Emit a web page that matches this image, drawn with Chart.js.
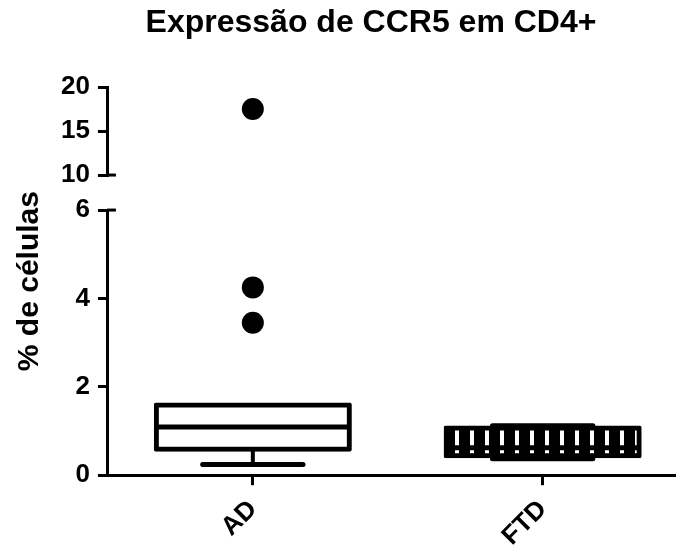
<!DOCTYPE html>
<html lang="pt">
<head>
<meta charset="utf-8">
<title>Expressão de CCR5 em CD4+</title>
<script src="https://cdn.jsdelivr.net/npm/chart.js@4.4.1/dist/chart.umd.min.js"></script>
<style>
  html, body { margin: 0; background: #fff; }
  #caixa  { position: relative; width: 676px; height: 547px; overflow: hidden; }
  #grafico { display: block; }
  #titulo { position: absolute; top: 5px; left: 371px; transform: translateX(-50%); white-space: nowrap;
            font: bold 32px 'Liberation Sans', Arial, sans-serif; line-height: 32px; color: #000; }
</style>
</head>
<body>
<div id="caixa">
  <div id="titulo">Expressão de CCR5 em CD4+</div>
  <canvas id="grafico"></canvas>
</div>
<script>
// DADOS — box plot (Tukey) por grupo
const categorias = ['AD', 'FTD'];
const minimos    = [0.24, 0.37];
const quartil1   = [0.59, 0.44];
const medianas   = [1.09, 0.62];
const quartil3   = [1.59, 1.07];
const maximos    = [1.59, 1.12];
const outliersAD = [3.45, 4.25, 17.5];

// Eixo Y quebrado: segmento de baixo e segmento de cima
const ticksBaixo = [0, 2, 4, 6];
const ticksTopo  = [10, 15, 20];
const corte      = ticksTopo[0];

// Estilo comum
const fonte      = { family: "'Liberation Sans', Arial, sans-serif", weight: 'bold', size: 26 };
const bordaPreta = { color: '#000', width: 3 };
const gradePreta = { display: true, drawOnChartArea: false, color: '#000', lineWidth: 3, tickLength: 10 };

// Hachura vertical da caixa FTD
const ladrilho = document.createElement('canvas');
ladrilho.width = 15; ladrilho.height = 1;
const ctxLad = ladrilho.getContext('2d');
ctxLad.fillStyle = '#000'; ctxLad.fillRect(0, 0, 15, 1);
ctxLad.fillStyle = '#fff'; ctxLad.fillRect(5, 0, 4, 1);
const hachura = ctxLad.createPattern(ladrilho, 'repeat');

// Bigodes, medianas e marcas da quebra
const desenhoCaixas = {
  id: 'desenhoCaixas',
  afterDatasetsDraw(chart) {
    const { ctx, scales } = chart;
    const x = scales.x, y = scales.y, yTopo = scales.yTopo;
    const barras = chart.getDatasetMeta(0).data;
    const linha = (x1, y1, x2, y2, w, cap) => {
      ctx.lineWidth = w; ctx.lineCap = cap;
      ctx.beginPath(); ctx.moveTo(x1, y1); ctx.lineTo(x2, y2); ctx.stroke();
    };
    ctx.save();
    ctx.strokeStyle = '#000';
    categorias.forEach((c, i) => {
      const cx    = x.getPixelForValue(i);
      const meia  = barras[i].width / 2;
      const haste = meia * 0.52;
      if (minimos[i] < quartil1[i]) {
        const yMin = y.getPixelForValue(minimos[i]);
        linha(cx, y.getPixelForValue(quartil1[i]), cx, yMin, 4, 'butt');
        linha(cx - haste, yMin, cx + haste, yMin, 5, 'round');
      }
      if (maximos[i] > quartil3[i]) {
        const yMax = y.getPixelForValue(maximos[i]);
        linha(cx, y.getPixelForValue(quartil3[i]), cx, yMax, 4, 'butt');
        linha(cx - haste, yMax, cx + haste, yMax, 5, 'round');
      }
      const yMed = y.getPixelForValue(medianas[i]);
      linha(cx - meia, yMed, cx + meia, yMed, 5, 'butt');
    });
    // tracinhos da quebra do eixo
    linha(y.right - 1, y.getPixelForValue(y.max), y.right + 8, y.getPixelForValue(y.max), 3, 'butt');
    linha(yTopo.right - 1, yTopo.getPixelForValue(yTopo.min), yTopo.right + 8, yTopo.getPixelForValue(yTopo.min), 3, 'butt');
    ctx.restore();
  }
};

const iAD = categorias.indexOf('AD');

new Chart(document.getElementById('grafico').getContext('2d'), {
  type: 'bar',
  data: {
    datasets: [
      {
        label: 'Caixas',
        data: categorias.map((c, i) => ({ x: i, y: [quartil1[i], quartil3[i]] })),
        backgroundColor: ['#fff', hachura],
        borderColor: '#000',
        borderWidth: 5,
        borderSkipped: false,
        borderRadius: 2,
        inflateAmount: 2.5,
        barPercentage: 0.666,
        categoryPercentage: 1,
        yAxisID: 'y'
      },
      {
        type: 'scatter',
        label: 'Outliers AD',
        data: outliersAD.filter(v => v < corte).map(v => ({ x: iAD, y: v })),
        yAxisID: 'y',
        pointRadius: 11,
        backgroundColor: '#000',
        borderWidth: 0
      },
      {
        type: 'scatter',
        label: 'Outliers AD (topo)',
        data: outliersAD.filter(v => v >= corte).map(v => ({ x: iAD, y: v })),
        yAxisID: 'yTopo',
        pointRadius: 11,
        backgroundColor: '#000',
        borderWidth: 0
      }
    ]
  },
  plugins: [desenhoCaixas],
  options: {
    responsive: true,
    maintainAspectRatio: false,
    animation: false,
    events: [],
    layout: { autoPadding: false, padding: { top: 87, left: 4, right: 0, bottom: -14 } },
    plugins: { legend: { display: false }, tooltip: { enabled: false } },
    scales: {
      x: {
        type: 'linear', min: -0.5, max: 1.46, offset: false,
        afterBuildTicks: eixo => { eixo.ticks = categorias.map((c, i) => ({ value: i })); },
        afterFit: eixo => { eixo.paddingRight = 0; },
        ticks: { callback: v => categorias[v], font: fonte, color: '#000', minRotation: 45, maxRotation: 45, padding: 9, autoSkip: false },
        grid: { ...gradePreta, offset: false },
        border: bordaPreta
      },
      y: {
        stack: 'esquerda', stackWeight: 265, position: 'left', min: ticksBaixo[0], max: ticksBaixo[ticksBaixo.length - 1],
        afterBuildTicks: eixo => { eixo.ticks = ticksBaixo.map(v => ({ value: v })); },
        ticks: { font: fonte, color: '#000', padding: 8, autoSkip: false },
        grid: gradePreta, border: bordaPreta
      },
      yVao: { stack: 'esquerda', stackWeight: 35, position: 'left', display: false },
      yTopo: {
        stack: 'esquerda', stackWeight: 88, position: 'left', min: ticksTopo[0], max: ticksTopo[ticksTopo.length - 1],
        afterBuildTicks: eixo => { eixo.ticks = ticksTopo.map(v => ({ value: v })); },
        ticks: { font: fonte, color: '#000', padding: 8, autoSkip: false },
        grid: gradePreta, border: bordaPreta
      },
      yRotulo: {
        position: 'left',
        ticks: { display: false },
        grid: { display: false, drawTicks: false },
        border: { display: false },
        title: { display: true, text: '% de células', color: '#000', padding: { top: 8, bottom: 5 },
                 font: { family: fonte.family, weight: 'bold', size: 30 } }
      }
    }
  }
});
</script>
</body>
</html>
